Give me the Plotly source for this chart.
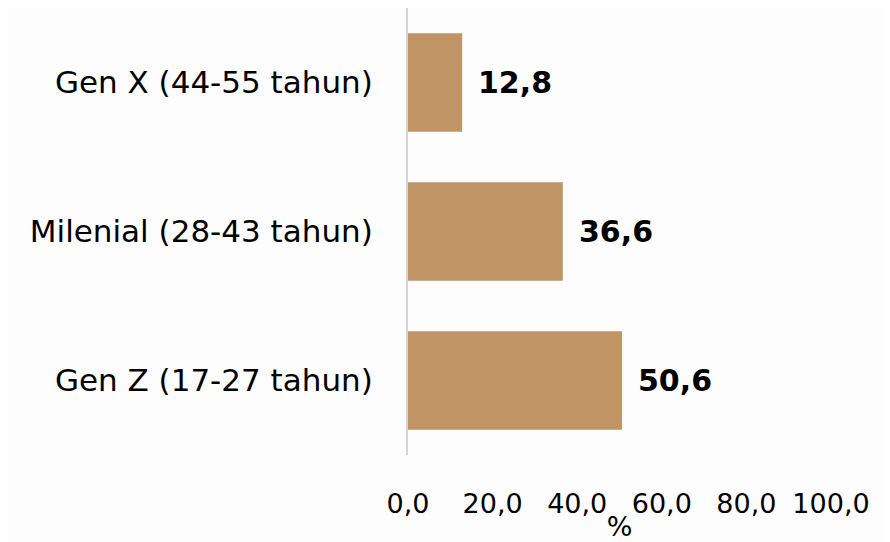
import plotly.graph_objects as go

categories = ["Gen X (44-55 tahun)", "Milenial (28-43 tahun)", "Gen Z (17-27 tahun)"]
values = [12.8, 36.6, 50.6]
value_labels = ["12,8", "36,6", "50,6"]
tick_vals = [0, 20, 40, 60, 80, 100]
tick_text = ["0,0", "20,0", "40,0", "60,0", "80,0", "100,0"]

FONT = "DejaVu Sans"
BAR_COLOR = "#c09464"
BG = "#fdfdfd"

fig = go.Figure()
fig.add_trace(go.Bar(
    y=categories,
    x=values,
    orientation="h",
    marker=dict(color=BAR_COLOR, line=dict(width=0)),
    width=0.66,
    hoverinfo="skip",
))

for cat, v, lab in zip(categories, values, value_labels):
    fig.add_annotation(
        x=v, y=cat, text=f"<b>{lab}</b>", showarrow=False,
        xanchor="left", yanchor="middle", xshift=14,
        font=dict(family=FONT, size=30, color="#000000"),
    )

fig.update_layout(
    width=874, height=534,
    margin=dict(l=400, r=51, t=0, b=87, autoexpand=False),
    paper_bgcolor=BG,
    plot_bgcolor=BG,
    showlegend=False,
    font=dict(family=FONT, size=28, color="#000000"),
)
fig.update_xaxes(
    range=[0, 100],
    tickvals=tick_vals,
    ticktext=tick_text,
    showgrid=False,
    zeroline=False,
    showline=False,
    ticks="",
    automargin=False,
    ticklabelstandoff=30,
    tickfont=dict(family=FONT, size=27, color="#000000"),
    title=dict(text="%", standoff=4, font=dict(family=FONT, size=27, color="#000000")),
)
fig.update_yaxes(
    categoryorder="array",
    categoryarray=categories[::-1],
    showgrid=False,
    zeroline=False,
    showline=True,
    linecolor="#d4d4d4",
    linewidth=2,
    ticks="",
    automargin=False,
    ticklabelstandoff=27,
    tickfont=dict(family=FONT, size=31, color="#000000"),
)

fig.write_html("out.html")
